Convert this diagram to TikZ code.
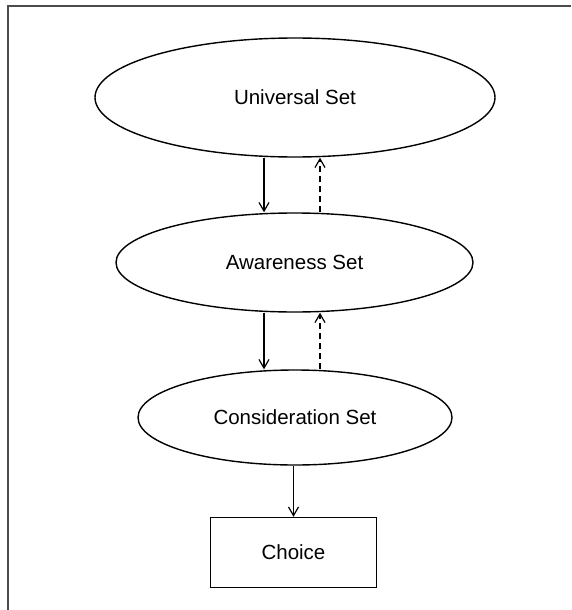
\documentclass[tikz,border=0pt]{standalone}
\usepackage{fontspec}
\setmainfont{Liberation Sans}
\usetikzlibrary{shapes.geometric,arrows.meta}
\begin{document}
\begin{tikzpicture}[x=1pt,y=-1pt,
  setshape/.style={draw,ellipse,line width=1.4pt,inner sep=0pt,font=\fontsize{20.5}{24}\selectfont},
  boxshape/.style={draw,rectangle,line width=1.4pt,inner sep=0pt,font=\fontsize{20.5}{24}\selectfont},
  flow/.style={line width=1.1pt,-{Straight Barb[angle=60:10pt,line width=1.2pt]}},
  back/.style={flow,dash pattern=on 6pt off 4pt}]
\useasboundingbox (0,0) rectangle (571,610);
\draw[line width=2pt,gray!60!black] (8,610) coordinate (bl) -- (8,6) coordinate (tl) -- (571,6) coordinate (tr);
\node[setshape,minimum width=400pt,minimum height=119pt] (U) at (295,97.5) {Universal Set};
\node[setshape,minimum width=357pt,minimum height=99pt] (A) at (294.5,262.5) {Awareness Set};
\node[setshape,minimum width=314pt,minimum height=95pt] (C) at (295,417.5) {Consideration Set};
\node[boxshape,minimum width=166pt,minimum height=70pt] (Ch) at (293.5,552.5) {Choice};
\draw[flow] (U.south -| 264,0) -- (A.north -| 264,0);
\draw[back] (A.north -| 320,0) -- (U.south -| 320,0);
\draw[flow] (A.south -| 264,0) -- (C.north -| 264,0);
\draw[back] (C.north -| 320,0) -- (A.south -| 320,0);
\draw[flow] (C.south -| 293.5,0) -- (Ch.north);
\end{tikzpicture}
\end{document}
